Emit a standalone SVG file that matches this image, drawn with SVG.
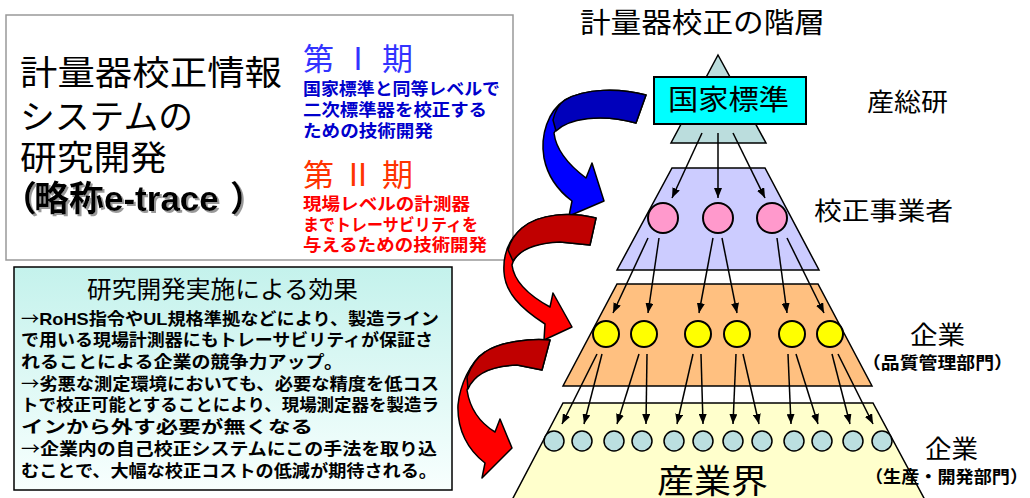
<svg xmlns="http://www.w3.org/2000/svg" width="1030" height="498" viewBox="0 0 1030 498">
<defs>
<style>
text{font-family:"Liberation Sans","Noto Sans CJK JP",sans-serif;}
.b{font-weight:bold;}
.blue{fill:#0000cc;font-weight:bold;font-size:17px;}
.red{fill:#ff0000;font-weight:bold;font-size:17px;}
.body{font-weight:bold;font-size:17px;fill:#000;}
.ar{font-family:"Noto Sans CJK JP",sans-serif;font-weight:normal;}
.con line{stroke:#000;stroke-width:1.5;marker-end:url(#ah);}
.shape{stroke:#000;stroke-width:1.5;}
.pink{fill:#ff99cc;stroke:#000;stroke-width:2;}
.yel{fill:#ffff00;stroke:#000;stroke-width:2;}
.lb{fill:#bbdfe0;stroke:#000;stroke-width:1.5;}
.arw{stroke:#000;stroke-width:1.5;stroke-linejoin:round;}
</style>
<marker id="ah" markerUnits="userSpaceOnUse" markerWidth="10" markerHeight="8" refX="10" refY="4" orient="auto">
<path d="M0,0 L10,4 L0,8 Z" fill="#000"/>
</marker>
<linearGradient id="gb" x1="0" y1="0" x2="0" y2="1">
<stop offset="0" stop-color="#c4f2ec"/>
<stop offset="1" stop-color="#f8fffe"/>
</linearGradient>
<filter id="sh" x="-5%" y="-20%" width="115%" height="150%">
<feFlood flood-color="#999999" result="c"/>
<feComposite in="c" in2="SourceAlpha" operator="in" result="s"/>
<feOffset in="s" dx="2" dy="2" result="o"/>
<feMerge><feMergeNode in="o"/><feMergeNode in="SourceGraphic"/></feMerge>
</filter>
</defs>
<rect width="1030" height="498" fill="#fff"/>

<g id="title-box">
<rect x="6" y="15" width="507" height="245" fill="#fff" stroke="#999" stroke-width="1.5"/>
<text x="20" y="85" font-size="34" textLength="262" lengthAdjust="spacingAndGlyphs">計量器校正情報</text>
<text x="20" y="129" font-size="34" textLength="173" lengthAdjust="spacingAndGlyphs">システムの</text>
<text x="20" y="170" font-size="34" textLength="147" lengthAdjust="spacingAndGlyphs">研究開発</text>
<text y="211" font-size="35" class="b" filter="url(#sh)"><tspan x="2">（</tspan><tspan x="34">略称e-trace</tspan><tspan x="230">）</tspan></text>
<text x="303" y="70" font-size="31" fill="#3333ff" textLength="110" lengthAdjust="spacingAndGlyphs">第 Ⅰ 期</text>
<text x="303" y="95" class="blue" textLength="197" lengthAdjust="spacingAndGlyphs">国家標準と同等レベルで</text>
<text x="303" y="116" class="blue" textLength="184" lengthAdjust="spacingAndGlyphs">二次標準器を校正する</text>
<text x="303" y="137" class="blue" textLength="130" lengthAdjust="spacingAndGlyphs">ための技術開発</text>
<text x="303" y="186" font-size="31" fill="#ff3300" textLength="110" lengthAdjust="spacingAndGlyphs">第 Ⅱ 期</text>
<text x="303" y="210" class="red" textLength="167" lengthAdjust="spacingAndGlyphs">現場レベルの計測器</text>
<text x="303" y="231" class="red" textLength="175" lengthAdjust="spacingAndGlyphs">までトレーサビリティを</text>
<text x="303" y="251" class="red" textLength="184" lengthAdjust="spacingAndGlyphs">与えるための技術開発</text>
</g>

<g id="effect-box">
<rect x="14" y="267" width="438" height="223" fill="url(#gb)" stroke="#000" stroke-width="1.5"/>
<text x="87" y="298" font-size="24" textLength="271" lengthAdjust="spacingAndGlyphs">研究開発実施による効果</text>
<text x="21" y="325" class="body" textLength="418" lengthAdjust="spacingAndGlyphs"><tspan class="ar">→</tspan>RoHS指令やUL規格準拠などにより、製造ライン</text>
<text x="21" y="346" class="body" textLength="412" lengthAdjust="spacingAndGlyphs">で用いる現場計測器にもトレーサビリティが保証さ</text>
<text x="21" y="368" class="body" textLength="322" lengthAdjust="spacingAndGlyphs">れることによる企業の競争力アップ。</text>
<text x="21" y="390" class="body" textLength="418" lengthAdjust="spacingAndGlyphs"><tspan class="ar">→</tspan>劣悪な測定環境においても、必要な精度を低コス</text>
<text x="21" y="411" class="body" textLength="418" lengthAdjust="spacingAndGlyphs">トで校正可能とすることにより、現場測定器を製造ラ</text>
<text x="21" y="433" class="body" textLength="292" lengthAdjust="spacingAndGlyphs">インから外す必要が無くなる</text>
<text x="21" y="455" class="body" textLength="416" lengthAdjust="spacingAndGlyphs"><tspan class="ar">→</tspan>企業内の自己校正システムにこの手法を取り込</text>
<text x="21" y="477" class="body" textLength="416" lengthAdjust="spacingAndGlyphs">むことで、大幅な校正コストの低減が期待される。</text>
</g>

<g id="phase-arrows">
<g id="arrow-blue">
<path class="arw" fill="#0000ff" d="M646,95 C620,88 585,88 565,100 C548,111 540,135 544,158 C548,178 560,192 572,201 L569,216 L604,201 L592,163 L586,178 C570,166 556,150 554,133 C560,120 595,112 636,123 Z"/>
<path class="arw" fill="#0000bb" d="M646,95 C620,88 585,88 565,100 C559,104 555,111 553,120 L556,131 C568,119 600,113 636,123 Z"/>
</g>
<g id="arrow-red1">
<path class="arw" fill="#ff0000" d="M596,218 C570,212 540,213 522,228 C508,240 503,256 504,272 C505,292 520,308 545,324 L544,340 L572,327 L553,293 L550,307 C530,296 514,282 512,265 C516,250 535,242 560,242 L590,245 Z"/>
<path class="arw" fill="#c00000" d="M596,218 C570,212 540,213 522,228 C515,234 510,242 508,250 L513,261 C520,250 535,243 560,242 L590,245 Z"/>
</g>
<g id="arrow-red2">
<path class="arw" fill="#ff0000" d="M550,340 C530,338 500,342 485,352 C470,362 460,385 458,405 C457,430 468,450 485,463 L482,478 L512,448 L500,419 L495,432 C482,424 470,410 467,390 C472,374 490,366 517,365 L542,370 Z"/>
<path class="arw" fill="#c00000" d="M550,340 C530,338 500,342 485,352 C477,357 471,366 467,377 L468,389 C474,375 490,366 517,365 L542,370 Z"/>
</g>
</g>

<text x="580" y="33" font-size="28" textLength="245" lengthAdjust="spacingAndGlyphs">計量器校正の階層</text>

<g id="layer-industry">
<polygon class="shape" fill="#ffffcc" points="563,403 873,403 925,500 512,500"/>
<circle class="lb" cx="554" cy="441" r="10"/>
<circle class="lb" cx="582" cy="441" r="10"/>
<circle class="lb" cx="614" cy="441" r="10"/>
<circle class="lb" cx="642" cy="441" r="10"/>
<circle class="lb" cx="674" cy="441" r="10"/>
<circle class="lb" cx="703" cy="441" r="10"/>
<circle class="lb" cx="733" cy="441" r="10"/>
<circle class="lb" cx="762" cy="441" r="10"/>
<circle class="lb" cx="794" cy="441" r="10"/>
<circle class="lb" cx="822" cy="441" r="10"/>
<circle class="lb" cx="853" cy="441" r="10"/>
<circle class="lb" cx="882" cy="441" r="10"/>
<text x="657" y="493" font-size="33" textLength="111" lengthAdjust="spacingAndGlyphs">産業界</text>
<text x="925" y="458" font-size="25" textLength="53" lengthAdjust="spacingAndGlyphs">企業</text>
<text x="865" y="483" font-size="17" class="b" textLength="163" lengthAdjust="spacingAndGlyphs">（生産・開発部門）</text>
</g>

<g id="layer-quality">
<polygon class="shape" fill="#ffc080" points="617,284 818,284 872,386 563,386"/>
<circle class="yel" cx="606" cy="334" r="13"/>
<circle class="yel" cx="644" cy="334" r="13"/>
<circle class="yel" cx="698" cy="334" r="13"/>
<circle class="yel" cx="737" cy="334" r="13"/>
<circle class="yel" cx="792" cy="334" r="13"/>
<circle class="yel" cx="830" cy="334" r="13"/>
<text x="910" y="344" font-size="25" textLength="55" lengthAdjust="spacingAndGlyphs">企業</text>
<text x="862" y="369" font-size="17" class="b" textLength="151" lengthAdjust="spacingAndGlyphs">（品質管理部門）</text>
</g>

<g id="layer-calib">
<polygon class="shape" fill="#ccccff" points="672,168 765,168 819,270 617,270"/>
<circle class="pink" cx="663" cy="218" r="15"/>
<circle class="pink" cx="718" cy="218" r="15"/>
<circle class="pink" cx="772" cy="218" r="15"/>
<text x="814" y="220" font-size="25" textLength="139" lengthAdjust="spacingAndGlyphs">校正事業者</text>
</g>

<g id="layer-national">
<polygon class="shape" fill="#bbdddd" points="718,55 766,143 671,143"/>
<rect x="654" y="77" width="152" height="47" fill="#00ffff" stroke="#000" stroke-width="2"/>
<text x="668" y="110" font-size="28" textLength="121" lengthAdjust="spacingAndGlyphs">国家標準</text>
<text x="867" y="111" font-size="25" textLength="81" lengthAdjust="spacingAndGlyphs">産総研</text>
</g>

<g id="connectors" class="con">
<line x1="702" y1="133" x2="672" y2="198"/>
<line x1="718" y1="133" x2="718" y2="198"/>
<line x1="733" y1="133" x2="765" y2="198"/>
<line x1="648" y1="238" x2="613" y2="313"/>
<line x1="659" y1="238" x2="648" y2="313"/>
<line x1="713" y1="238" x2="699" y2="313"/>
<line x1="722" y1="238" x2="737" y2="313"/>
<line x1="777" y1="238" x2="787" y2="313"/>
<line x1="787" y1="238" x2="824" y2="313"/>
<line x1="597" y1="354" x2="562" y2="424"/>
<line x1="602" y1="354" x2="584" y2="424"/>
<line x1="639" y1="354" x2="617" y2="424"/>
<line x1="647" y1="354" x2="646" y2="424"/>
<line x1="693" y1="354" x2="677" y2="424"/>
<line x1="701" y1="354" x2="703" y2="424"/>
<line x1="736" y1="354" x2="733" y2="424"/>
<line x1="743" y1="354" x2="759" y2="424"/>
<line x1="788" y1="354" x2="791" y2="424"/>
<line x1="796" y1="354" x2="818" y2="424"/>
<line x1="832" y1="354" x2="850" y2="424"/>
<line x1="838" y1="354" x2="873" y2="424"/>
</g>
</svg>
